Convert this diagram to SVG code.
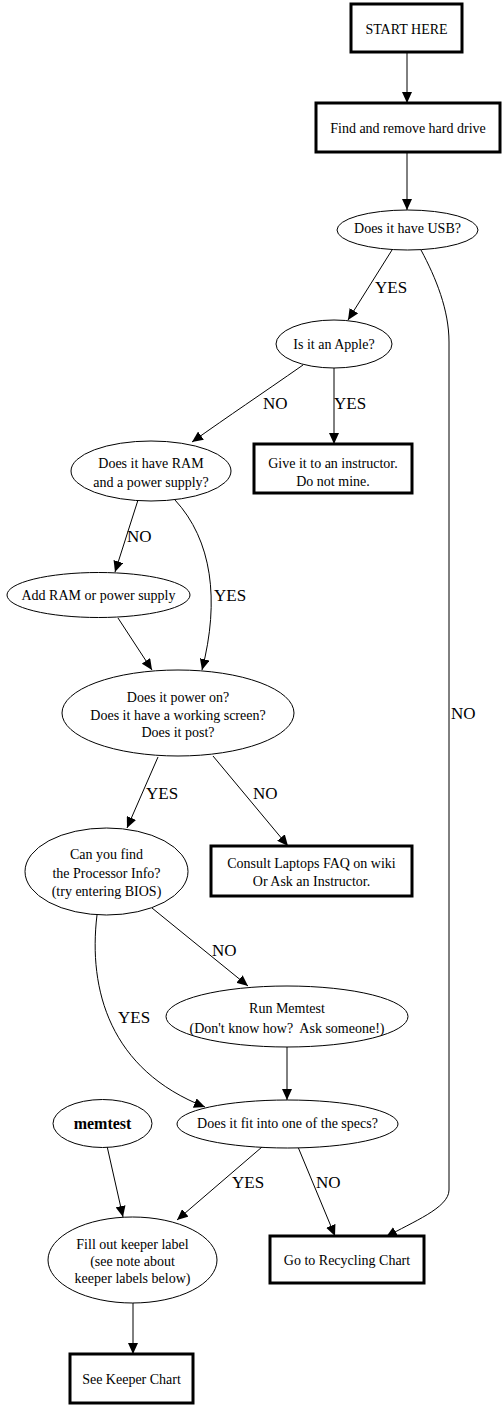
<svg xmlns="http://www.w3.org/2000/svg" width="503" height="1408" viewBox="0 0 503 1408">
<style>
.box{fill:#fff;stroke:#000;stroke-width:3}
.ell{fill:#fff;stroke:#000;stroke-width:1}
.t{font-family:"Liberation Serif","Times New Roman",serif;font-size:14px;fill:#000;text-anchor:middle}
.b{font-weight:bold;font-size:16px}
.lbl{font-family:"Liberation Serif","Times New Roman",serif;font-size:17px;fill:#000}
.e{fill:none;stroke:#000;stroke-width:1;marker-end:url(#ah)}
</style>
<defs>
<marker id="ah" markerUnits="userSpaceOnUse" markerWidth="11" markerHeight="10" refX="11" refY="5" orient="auto">
<path d="M0,0 L11,5 L0,10 z" fill="#000"/>
</marker>
</defs>
<rect width="503" height="1408" fill="#fff"/>
<g id="edges">
<path class="e" d="M407,52 L407,103"/>
<path class="e" d="M407,152 L407,210"/>
<path class="e" d="M392,250 L348,320"/>
<path class="e" d="M421,250 C436,278 449,310 449,342 L449,1190 C449,1208 412,1222 386,1237"/>
<path class="e" d="M303,365 C260,395 230,415 192,442"/>
<path class="e" d="M334,368 L334,444"/>
<path class="e" d="M138,500 L115,572"/>
<path class="e" d="M175,500 C212,540 220,600 202,670"/>
<path class="e" d="M118,618 L152,670"/>
<path class="e" d="M158,757 L127,828"/>
<path class="e" d="M213,756 L288,846"/>
<path class="e" d="M152,908 L248,986"/>
<path class="e" d="M97,915 C88,990 110,1070 205,1107"/>
<path class="e" d="M287,1047 L287,1100"/>
<path class="e" d="M107,1146 L123,1217"/>
<path class="e" d="M262,1147 L177,1220"/>
<path class="e" d="M298,1147 L335,1236"/>
<path class="e" d="M133,1303 L133,1354"/>
</g>
<g id="edge-labels">
<text class="lbl" x="375" y="293">YES</text>
<text class="lbl" x="263" y="409">NO</text>
<text class="lbl" x="334" y="409">YES</text>
<text class="lbl" x="127" y="542">NO</text>
<text class="lbl" x="214" y="601">YES</text>
<text class="lbl" x="146" y="799">YES</text>
<text class="lbl" x="253" y="799">NO</text>
<text class="lbl" x="451" y="719">NO</text>
<text class="lbl" x="212" y="956">NO</text>
<text class="lbl" x="118" y="1023">YES</text>
<text class="lbl" x="232" y="1188">YES</text>
<text class="lbl" x="316" y="1188">NO</text>
</g>
<g id="start"><rect class="box" x="351" y="4" width="111" height="48"/><text class="t" x="406.5" y="34">START HERE</text></g>
<g id="remove"><rect class="box" x="316" y="103" width="184" height="49"/><text class="t" x="408" y="133">Find and remove hard drive</text></g>
<g id="usb"><ellipse class="ell" cx="407.5" cy="230" rx="70.5" ry="20"/><text class="t" x="407.5" y="233">Does it have USB?</text></g>
<g id="apple"><ellipse class="ell" cx="334" cy="344" rx="58" ry="24"/><text class="t" x="334" y="349">Is it an Apple?</text></g>
<g id="give"><rect class="box" x="254" y="444" width="158" height="49"/><text class="t" x="333" y="468">Give it to an instructor.</text><text class="t" x="333" y="486">Do not mine.</text></g>
<g id="ram"><ellipse class="ell" cx="151" cy="471" rx="80" ry="30"/><text class="t" x="151" y="468">Does it have RAM</text><text class="t" x="151" y="487">and a power supply?</text></g>
<g id="addram"><ellipse class="ell" cx="98.5" cy="595" rx="91.5" ry="22.5"/><text class="t" x="98.5" y="600">Add RAM or power supply</text></g>
<g id="power"><ellipse class="ell" cx="178" cy="713" rx="116" ry="43"/><text class="t" x="178" y="702">Does it power on?</text><text class="t" x="178" y="720">Does it have a working screen?</text><text class="t" x="178" y="737">Does it post?</text></g>
<g id="proc"><ellipse class="ell" cx="106.5" cy="871.5" rx="81.5" ry="43.5"/><text class="t" x="106.5" y="859">Can you find</text><text class="t" x="106.5" y="878">the Processor Info?</text><text class="t" x="106.5" y="896">(try entering BIOS)</text></g>
<g id="consult"><rect class="box" x="211" y="846" width="201" height="50"/><text class="t" x="311.5" y="868">Consult Laptops FAQ on wiki</text><text class="t" x="311.5" y="886">Or Ask an Instructor.</text></g>
<g id="runmem"><ellipse class="ell" cx="287" cy="1016.5" rx="121" ry="30.5"/><text class="t" x="287" y="1013">Run Memtest</text><text class="t" x="287" y="1033">(Don't know how?&#160; Ask someone!)</text></g>
<g id="fits"><ellipse class="ell" cx="287.5" cy="1124" rx="110.5" ry="24"/><text class="t" x="287.5" y="1128">Does it fit into one of the specs?</text></g>
<g id="memtest"><ellipse class="ell" cx="102.5" cy="1123.5" rx="49.5" ry="24"/><text class="t b" x="102.5" y="1129">memtest</text></g>
<g id="fill"><ellipse class="ell" cx="132.5" cy="1260" rx="84.5" ry="43"/><text class="t" x="132.5" y="1249">Fill out keeper label</text><text class="t" x="132.5" y="1266">(see note about</text><text class="t" x="132.5" y="1283">keeper labels below)</text></g>
<g id="recycle"><rect class="box" x="270" y="1236" width="154" height="47"/><text class="t" x="347" y="1265">Go to Recycling Chart</text></g>
<g id="keeper"><rect class="box" x="70" y="1354" width="123" height="49"/><text class="t" x="131.5" y="1384">See Keeper Chart</text></g>
</svg>
